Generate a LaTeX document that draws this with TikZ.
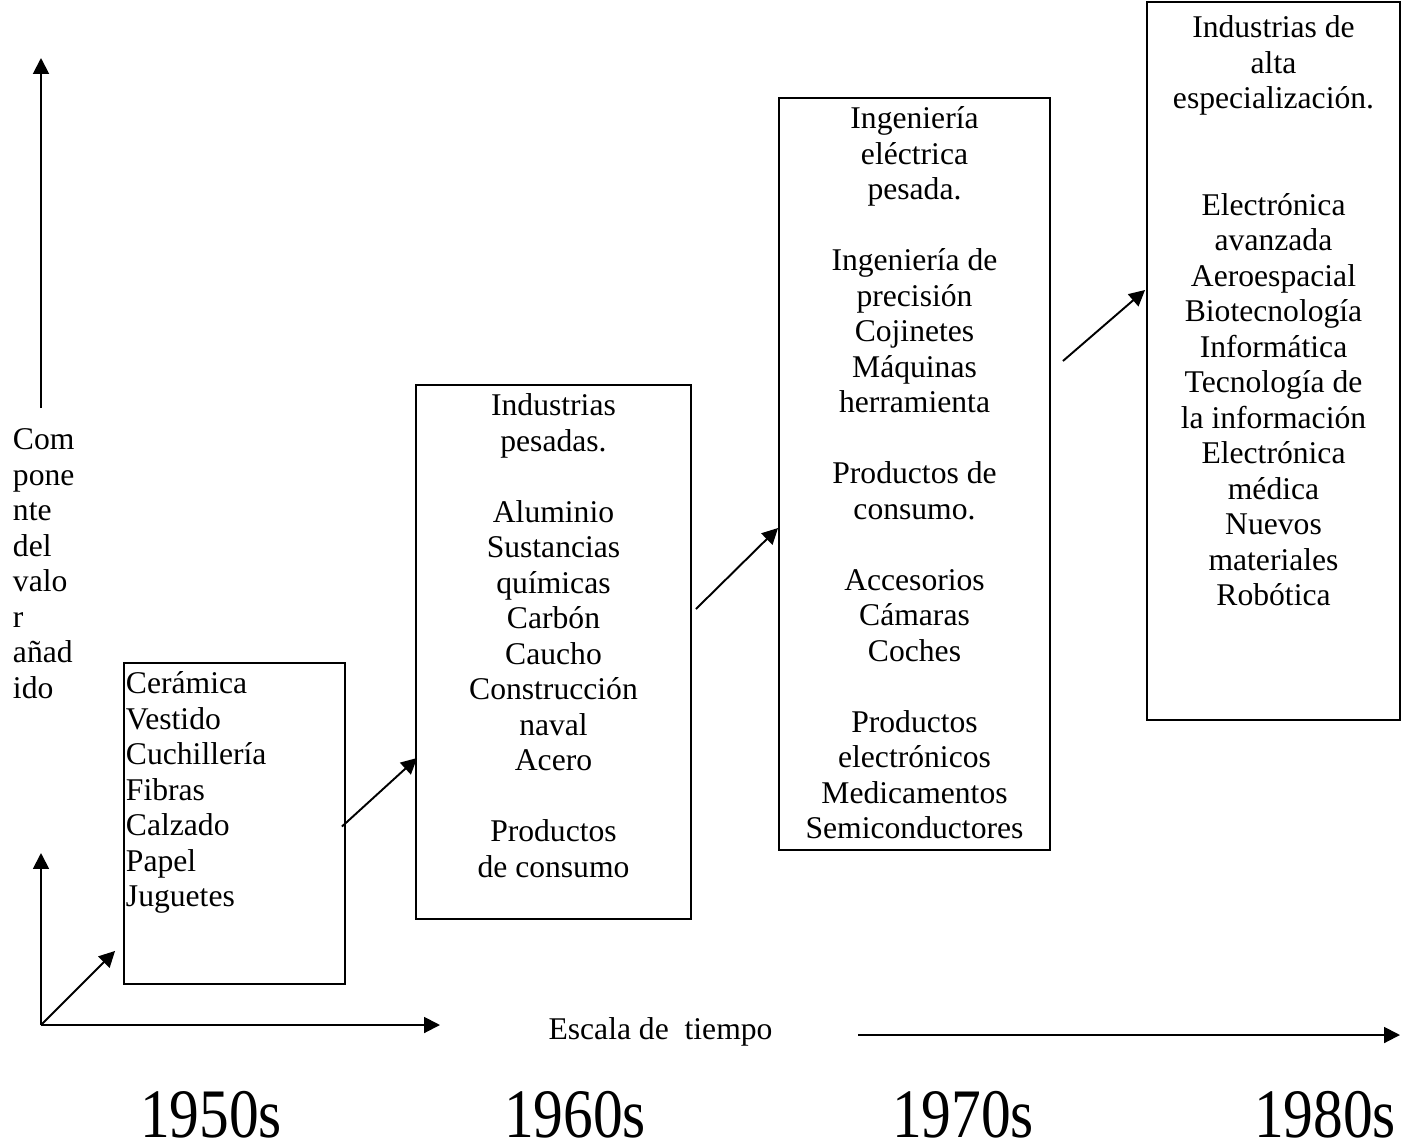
\documentclass[tikz,border=0pt]{standalone}
\usepackage{graphicx}
\usepackage{fontspec}
\setmainfont{Liberation Serif}
\usetikzlibrary{arrows.meta,calc}
\newlength{\blankln}
\setlength{\blankln}{20.2pt}
\newcommand{\tallyear}[1]{\scalebox{1}[1.17]{#1}}

\begin{document}
\begin{tikzpicture}[x=0.02cm, y=-0.02cm, line width=1.1pt,
    >={Triangle[length=9pt,width=9pt]},
    sectorbox/.style={draw, inner sep=0pt},
    sectortext/.style={inner sep=0pt, align=center, anchor=north,
        font=\fontsize{18}{20.2}\selectfont},
    yearlbl/.style={inner sep=0pt, anchor=base,
        font=\fontsize{33.8}{40}\selectfont}]
    \useasboundingbox (0,0) rectangle (1416,1139);

    % boxes, one per decade
    \node[sectorbox, minimum width=4.42cm, minimum height=6.42cm] (b1) at (234.5,823.5) {};
    \node[sectorbox, minimum width=5.5cm, minimum height=10.68cm] (b2) at (553.5,652) {};
    \node[sectorbox, minimum width=5.42cm, minimum height=15.04cm] (b3) at (914.5,474) {};
    \node[sectorbox, minimum width=5.06cm, minimum height=14.36cm] (b4) at (1273.5,361) {};

    \node[sectortext, align=left, anchor=north west] (t1) at (125,668)
        {\strut Cerámica\\Vestido\\Cuchillería\\Fibras\\Calzado\\Papel\\Juguetes};
    \node[sectortext] (t2) at (553.5,390)
        {\strut Industrias\\pesadas.\\[\blankln]Aluminio\\Sustancias\\químicas\\Carbón\\Caucho\\Construcción\\naval\\Acero\\[\blankln]Productos\\de consumo};
    \node[sectortext] (t3) at (914.5,103)
        {\strut Ingeniería\\eléctrica\\pesada.\\[\blankln]Ingeniería de\\precisión\\Cojinetes\\Máquinas\\herramienta\\[\blankln]Productos de\\consumo.\\[\blankln]Accesorios\\Cámaras\\Coches\\[\blankln]Productos\\electrónicos\\Medicamentos\\Semiconductores};
    \node[sectortext] (t4) at (1273.5,12)
        {\strut Industrias de\\alta\\especialización.\\[2\blankln]Electrónica\\avanzada\\Aeroespacial\\Biotecnología\\Informática\\Tecnología de\\la información\\Electrónica\\médica\\Nuevos\\materiales\\Robótica};

    % axes
    \coordinate (orig) at (41,1025);
    \coordinate (vshort) at (41,853);
    \coordinate (hend) at (440,1025);
    \coordinate (vlow) at (41,408);
    \coordinate (vhigh) at (41,58);
    \coordinate (tstart) at (858,1035);
    \coordinate (tend) at (1400,1035);
    \draw[->] (orig) -- (vshort);
    \draw[->] (orig) -- (hend);
    \draw[->] (orig) -- ($(b1.south west)+(-8,-34)$);
    \draw[->] (vlow) -- (vhigh);
    \draw[->] (tstart) -- (tend);

    \node[sectortext, align=left, anchor=north west] (ylbl) at (12,424)
        {\strut Com\\pone\\nte\\del\\valo\\r\\añad\\ido};
    \node[sectortext, anchor=base] (escala) at (660.5,1039) {Escala de\ \ tiempo};

    % steps between decades
    \draw[->] ($(b1.east)+(-4,3)$) -- ($(b2.west)+(2,106)$);
    \draw[->] ($(b2.east)+(4,-43)$) -- ($(b3.west)+(0,54)$);
    \draw[->] ($(b3.east)+(12,-113)$) -- ($(b4.west)+(-1,-71)$);

    \node[yearlbl] (y50) at (211,1137) {\tallyear{1950s}};
    \node[yearlbl] (y60) at (575,1137) {\tallyear{1960s}};
    \node[yearlbl] (y70) at (963,1137) {\tallyear{1970s}};
    \node[yearlbl] (y80) at (1325,1137) {\tallyear{1980s}};
\end{tikzpicture}
\end{document}
